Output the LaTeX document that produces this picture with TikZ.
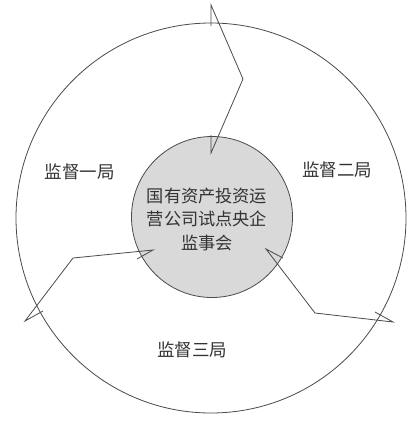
\documentclass[tikz,border=0pt]{standalone}
\usepackage{fontspec}
\newfontfamily\cjk{Noto Sans CJK SC}
\definecolor{linec}{HTML}{4A4A4A}
\definecolor{fillc}{HTML}{D9D9D9}
\definecolor{textc}{HTML}{333333}
\begin{document}
\begin{tikzpicture}[x=1pt,y=-1pt,
  ring/.style={draw=linec, line width=0.8pt, circle, inner sep=0pt},
  bolt/.style={draw=linec, line width=0.8pt},
  lab/.style={text=textc, font=\cjk\fontsize{17.5}{20}\selectfont, inner sep=0pt}]
\useasboundingbox (0,0) rectangle (414,421);
\node[ring, minimum size=390pt] (outer) at (211,218) {};
\node[ring, fill=fillc, minimum size=161pt] (inner) at (212,217) {};
\node[text=textc, align=center, inner sep=0pt,
      font=\cjk\fontsize{17.2}{23.5}\selectfont] (title) at (207,219)
  {国有资产投资运\\营公司试点央企\\监事会};
\node[lab] (b1) at (80,172) {监督一局};
\node[lab] (b2) at (337,170) {监督二局};
\node[lab] (b3) at (192,350) {监督三局};
% top bolt
\coordinate (t1) at (211,26);
\coordinate (t2) at (211,5);
\coordinate (t3) at (243,79);
\coordinate (t4) at (211,153);
\coordinate (t5) at (211,135);
\draw[bolt] (t1) -- (t2) -- (t3) -- (t4) -- (t5);
% bottom-left bolt
\coordinate (l1) at (43,311);
\coordinate (l2) at (25,321);
\coordinate (l3) at (73,258);
\coordinate (l4) at (153,250);
\coordinate (l5) at (137,259);
\draw[bolt] (l1) -- (l2) -- (l3) -- (l4) -- (l5);
% bottom-right bolt
\coordinate (r1) at (283,258);
\coordinate (r2) at (266,249);
\coordinate (r3) at (315,313);
\coordinate (r4) at (393,322);
\coordinate (r5) at (375,312);
\draw[bolt] (r1) -- (r2) -- (r3) -- (r4) -- (r5);
\end{tikzpicture}
\end{document}
